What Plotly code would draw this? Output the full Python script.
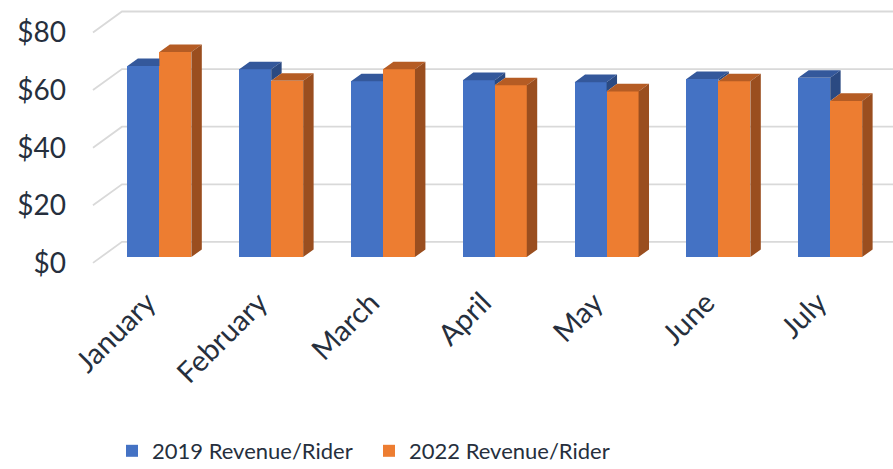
import plotly.graph_objects as go

months = ["January", "February", "March", "April", "May", "June", "July"]
rev_2019 = [66.3, 65.2, 61.0, 61.4, 60.7, 61.8, 62.2]
rev_2022 = [71.2, 61.2, 65.2, 59.6, 57.5, 61.0, 54.2]
y_ticks = [0, 20, 40, 60, 80]
y_tick_labels = ["$0", "$20", "$40", "$60", "$80"]
series_names = ["2019 Revenue/Rider", "2022 Revenue/Rider"]

# colours
BLUE = "#4472C4"; BLUE_TOP = "#34589B"; BLUE_SIDE = "#2B4A82"
ORANGE = "#ED7D31"; ORANGE_TOP = "#B55C24"; ORANGE_SIDE = "#9A4E1F"
GRID = "#D9D9D9"; TEXT = "#262F3D"

# geometry (pixel -> data conversions)
W_PX, H_PX = 893, 469
L, R, T, B = 85, 0, 5, 194
CAT_PX = 111.8          # px per category
K = 2.88                # px per dollar
CAT0_PX = 159.4         # px of first category centre
ZERO_PX = 257.0         # px of $0 on the bars' front plane
plot_w = W_PX - L - R
plot_h = H_PX - T - B
x0 = (L - CAT0_PX) / CAT_PX
x1 = (W_PX - R - CAT0_PX) / CAT_PX
y1 = (ZERO_PX - T) / K
y0 = (ZERO_PX - (T + plot_h)) / K

ux = 29 / CAT_PX        # x shift per unit depth
uy = 21 / K             # y shift per unit depth
f = 0.28                # depth of the bars' front face
bd = 0.36               # bar depth
dx, dy = bd * ux, bd * uy
w = 0.286               # bar width (category units)
XL = (101.1 - CAT0_PX) / CAT_PX  # left wall edge at bar-front depth

fig = go.Figure()

# front faces
fig.add_trace(go.Bar(x=[i - w / 2 for i in range(len(months))], y=rev_2019, width=w,
                     name=series_names[0], marker=dict(color=BLUE, line=dict(width=0)),
                     hoverinfo="skip"))
fig.add_trace(go.Bar(x=[i + w / 2 for i in range(len(months))], y=rev_2022, width=w,
                     name=series_names[1], marker=dict(color=ORANGE, line=dict(width=0)),
                     hoverinfo="skip"))

def poly_trace(xs, ys, color):
    return go.Scatter(x=xs, y=ys, mode="lines", fill="toself", fillcolor=color,
                      line=dict(width=0, color=color), showlegend=False, hoverinfo="skip")

bt_x, bt_y, bs_x, bs_y, ot_x, ot_y, os_x, os_y = ([] for _ in range(8))
for i, (bv, ov) in enumerate(zip(rev_2019, rev_2022)):
    # blue top (visible part)
    oc = min(max(ov, bv), bv + dy)
    xs = [i - w, i, i, i + (bv + dy - oc) * dx / dy, i - w + dx, i - w]
    ys = [bv, bv, oc, bv + dy, bv + dy, bv]
    bt_x += xs + [None]; bt_y += ys + [None]
    # blue side (visible above orange)
    if bv > ov:
        bs_x += [i, i + dx, i + dx, i, i, None]
        bs_y += [ov, ov + dy, bv + dy, bv, ov, None]
    # orange top
    ot_x += [i, i + w, i + w + dx, i + dx, i, None]
    ot_y += [ov, ov, ov + dy, ov + dy, ov, None]
    # orange side
    os_x += [i + w, i + w + dx, i + w + dx, i + w, i + w, None]
    os_y += [0, dy, ov + dy, ov, 0, None]

fig.add_trace(poly_trace(bt_x, bt_y, BLUE_TOP))
if bs_x:
    fig.add_trace(poly_trace(bs_x, bs_y, BLUE_SIDE))
fig.add_trace(poly_trace(ot_x, ot_y, ORANGE_TOP))
fig.add_trace(poly_trace(os_x, os_y, ORANGE_SIDE))

# wall gridlines (left wall diagonal + back wall)
shapes = []
for v in y_ticks:
    xa, ya = XL - f * ux, v - f * uy
    xb, yb = XL + (1 - f) * ux, v + (1 - f) * uy
    shapes.append(dict(type="path", xref="x", yref="y", layer="below",
                       path=f"M{xa},{ya} L{xb},{yb} L{x1},{yb}",
                       line=dict(color=GRID, width=1.8)))

fig.update_layout(
    width=W_PX, height=H_PX,
    margin=dict(l=L, r=R, t=T, b=B, autoexpand=False),
    plot_bgcolor="white", paper_bgcolor="white",
    font=dict(family="Lato", color=TEXT),
    barmode="overlay", bargap=0,
    shapes=shapes,
    showlegend=True,
    legend=dict(orientation="h", x=(112 - L) / plot_w, xanchor="left",
                y=(T + plot_h - 451) / plot_h, yanchor="middle",
                font=dict(size=22, color=TEXT), entrywidth=212, entrywidthmode="pixels",
                traceorder="normal", bgcolor="rgba(0,0,0,0)"),
    xaxis=dict(range=[x0, x1], tickvals=list(range(len(months))), ticktext=months,
               tickangle=-45, showgrid=False, zeroline=False, showline=False, ticks="",
               tickfont=dict(size=29, color=TEXT), ticklabelstandoff=4, ticklabelshift=-12,
               automargin=False, fixedrange=True),
    yaxis=dict(range=[y0, y1], tickvals=y_ticks, ticktext=y_tick_labels, showgrid=False,
               zeroline=False, showline=False, ticks="", tickfont=dict(size=28, color=TEXT),
               ticklabelstandoff=18, ticklabelshift=6, automargin=False, fixedrange=True),
)

fig.write_html("out.html", config={"displayModeBar": False},
               post_script="document.body.style.margin='0';document.body.style.overflow='hidden';")
